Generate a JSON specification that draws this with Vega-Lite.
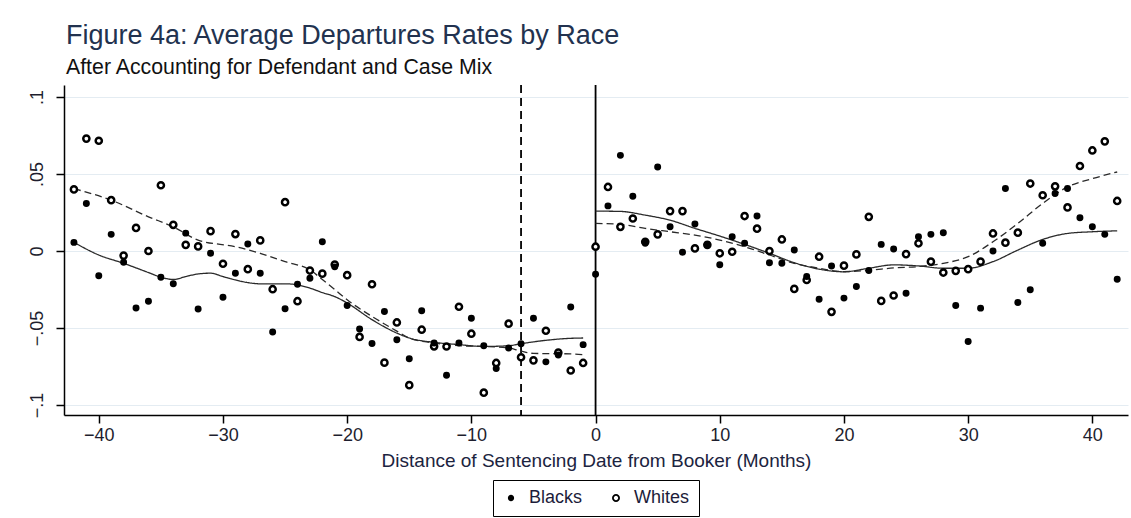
{
  "$schema": "https://vega.github.io/schema/vega-lite/v6.json",
  "width": 1064,
  "height": 330,
  "autosize": {"type": "none"},
  "padding": {"left": 64, "top": 85, "right": 3, "bottom": 103},
  "background": "white",
  "title": {
    "text": "Figure 4a: Average Departures Rates by Race",
    "subtitle": "After Accounting for Defendant and Case Mix",
    "anchor": "start",
    "frame": "group",
    "offset": 5,
    "dx": 2,
    "font": "Liberation Sans",
    "fontSize": 27,
    "fontWeight": "normal",
    "color": "#22324f",
    "subtitleFont": "Liberation Sans",
    "subtitleFontSize": 21.3,
    "subtitleColor": "#111111",
    "subtitlePadding": 7
  },
  "config": {
    "view": {"stroke": null},
    "font": "Liberation Sans",
    "axis": {
      "labelFont": "Liberation Sans",
      "titleFont": "Liberation Sans",
      "domainColor": "black",
      "domainWidth": 1.5,
      "tickColor": "black",
      "tickWidth": 1.5,
      "tickSize": 8,
      "labelColor": "#1e1e2e",
      "titleColor": "#1c2440",
      "gridColor": "#e4ecf2",
      "gridWidth": 1
    }
  },
  "resolve": {"scale": {"strokeDash": "independent"}},
  "datasets": {
    "points": [
      {"month": -42, "race": "Whites", "rate": 0.040}, {"month": -41, "race": "Whites", "rate": 0.073}, {"month": -40, "race": "Whites", "rate": 0.0716},
      {"month": -39, "race": "Whites", "rate": 0.033}, {"month": -38, "race": "Whites", "rate": -0.003}, {"month": -37, "race": "Whites", "rate": 0.015},
      {"month": -36, "race": "Whites", "rate": 0.000}, {"month": -35, "race": "Whites", "rate": 0.0427}, {"month": -34, "race": "Whites", "rate": 0.017},
      {"month": -33, "race": "Whites", "rate": 0.004}, {"month": -32, "race": "Whites", "rate": 0.003}, {"month": -31, "race": "Whites", "rate": 0.0129},
      {"month": -30, "race": "Whites", "rate": -0.0083}, {"month": -29, "race": "Whites", "rate": 0.011}, {"month": -28, "race": "Whites", "rate": -0.0118},
      {"month": -27, "race": "Whites", "rate": 0.0069}, {"month": -26, "race": "Whites", "rate": -0.0248}, {"month": -25, "race": "Whites", "rate": 0.0317},
      {"month": -24, "race": "Whites", "rate": -0.0326}, {"month": -23, "race": "Whites", "rate": -0.0127}, {"month": -22, "race": "Whites", "rate": -0.0147},
      {"month": -21, "race": "Whites", "rate": -0.0088}, {"month": -20, "race": "Whites", "rate": -0.0157}, {"month": -19, "race": "Whites", "rate": -0.0558},
      {"month": -18, "race": "Whites", "rate": -0.0216}, {"month": -17, "race": "Whites", "rate": -0.0725}, {"month": -16, "race": "Whites", "rate": -0.0464},
      {"month": -15, "race": "Whites", "rate": -0.0871}, {"month": -14, "race": "Whites", "rate": -0.0511}, {"month": -13, "race": "Whites", "rate": -0.0619},
      {"month": -12, "race": "Whites", "rate": -0.062}, {"month": -11, "race": "Whites", "rate": -0.0362}, {"month": -10, "race": "Whites", "rate": -0.0537},
      {"month": -9, "race": "Whites", "rate": -0.092}, {"month": -8, "race": "Whites", "rate": -0.0727}, {"month": -7, "race": "Whites", "rate": -0.0472},
      {"month": -6, "race": "Whites", "rate": -0.069}, {"month": -5, "race": "Whites", "rate": -0.071}, {"month": -4, "race": "Whites", "rate": -0.0518},
      {"month": -3, "race": "Whites", "rate": -0.066}, {"month": -2, "race": "Whites", "rate": -0.0776}, {"month": -1, "race": "Whites", "rate": -0.0727},
      {"month": 0, "race": "Whites", "rate": 0.0028}, {"month": 1, "race": "Whites", "rate": 0.0416}, {"month": 2, "race": "Whites", "rate": 0.0157},
      {"month": 3, "race": "Whites", "rate": 0.0211}, {"month": 4, "race": "Whites", "rate": 0.006}, {"month": 5, "race": "Whites", "rate": 0.0108},
      {"month": 6, "race": "Whites", "rate": 0.0259}, {"month": 7, "race": "Whites", "rate": 0.0259}, {"month": 8, "race": "Whites", "rate": 0.0017},
      {"month": 9, "race": "Whites", "rate": 0.004}, {"month": 10, "race": "Whites", "rate": -0.0015}, {"month": 11, "race": "Whites", "rate": -0.0005},
      {"month": 12, "race": "Whites", "rate": 0.0227}, {"month": 13, "race": "Whites", "rate": 0.0145}, {"month": 14, "race": "Whites", "rate": 0.0},
      {"month": 15, "race": "Whites", "rate": 0.0075}, {"month": 16, "race": "Whites", "rate": -0.0246}, {"month": 17, "race": "Whites", "rate": -0.0188},
      {"month": 18, "race": "Whites", "rate": -0.0037}, {"month": 19, "race": "Whites", "rate": -0.0395}, {"month": 20, "race": "Whites", "rate": -0.0095},
      {"month": 21, "race": "Whites", "rate": -0.0022}, {"month": 22, "race": "Whites", "rate": 0.0222}, {"month": 23, "race": "Whites", "rate": -0.0324},
      {"month": 24, "race": "Whites", "rate": -0.0289}, {"month": 25, "race": "Whites", "rate": -0.002}, {"month": 26, "race": "Whites", "rate": 0.005},
      {"month": 27, "race": "Whites", "rate": -0.0069}, {"month": 28, "race": "Whites", "rate": -0.014}, {"month": 29, "race": "Whites", "rate": -0.0129},
      {"month": 30, "race": "Whites", "rate": -0.0118}, {"month": 31, "race": "Whites", "rate": -0.0069}, {"month": 32, "race": "Whites", "rate": 0.0114},
      {"month": 33, "race": "Whites", "rate": 0.0054}, {"month": 34, "race": "Whites", "rate": 0.0119}, {"month": 35, "race": "Whites", "rate": 0.0438},
      {"month": 36, "race": "Whites", "rate": 0.0362}, {"month": 37, "race": "Whites", "rate": 0.042}, {"month": 38, "race": "Whites", "rate": 0.0283},
      {"month": 39, "race": "Whites", "rate": 0.0552}, {"month": 40, "race": "Whites", "rate": 0.0653}, {"month": 41, "race": "Whites", "rate": 0.0712},
      {"month": 42, "race": "Whites", "rate": 0.0325},
      {"month": -42, "race": "Blacks", "rate": 0.0056}, {"month": -41, "race": "Blacks", "rate": 0.0309}, {"month": -40, "race": "Blacks", "rate": -0.016},
      {"month": -39, "race": "Blacks", "rate": 0.0108}, {"month": -38, "race": "Blacks", "rate": -0.0073}, {"month": -37, "race": "Blacks", "rate": -0.037},
      {"month": -36, "race": "Blacks", "rate": -0.0326}, {"month": -35, "race": "Blacks", "rate": -0.017}, {"month": -34, "race": "Blacks", "rate": -0.0213},
      {"month": -33, "race": "Blacks", "rate": 0.0116}, {"month": -32, "race": "Blacks", "rate": -0.0377}, {"month": -31, "race": "Blacks", "rate": -0.0015},
      {"month": -30, "race": "Blacks", "rate": -0.030}, {"month": -29, "race": "Blacks", "rate": -0.0144}, {"month": -28, "race": "Blacks", "rate": 0.0045},
      {"month": -27, "race": "Blacks", "rate": -0.0144}, {"month": -26, "race": "Blacks", "rate": -0.0526}, {"month": -25, "race": "Blacks", "rate": -0.0375},
      {"month": -24, "race": "Blacks", "rate": -0.0216}, {"month": -23, "race": "Blacks", "rate": -0.0177}, {"month": -22, "race": "Blacks", "rate": 0.006},
      {"month": -21, "race": "Blacks", "rate": -0.0103}, {"month": -20, "race": "Blacks", "rate": -0.0354}, {"month": -19, "race": "Blacks", "rate": -0.0507},
      {"month": -18, "race": "Blacks", "rate": -0.060}, {"month": -17, "race": "Blacks", "rate": -0.0393}, {"month": -16, "race": "Blacks", "rate": -0.0576},
      {"month": -15, "race": "Blacks", "rate": -0.0699}, {"month": -14, "race": "Blacks", "rate": -0.0388}, {"month": -13, "race": "Blacks", "rate": -0.0597},
      {"month": -12, "race": "Blacks", "rate": -0.0807}, {"month": -11, "race": "Blacks", "rate": -0.0597}, {"month": -10, "race": "Blacks", "rate": -0.0436},
      {"month": -9, "race": "Blacks", "rate": -0.0615}, {"month": -8, "race": "Blacks", "rate": -0.0763}, {"month": -7, "race": "Blacks", "rate": -0.063},
      {"month": -6, "race": "Blacks", "rate": -0.0602}, {"month": -5, "race": "Blacks", "rate": -0.0436}, {"month": -4, "race": "Blacks", "rate": -0.072},
      {"month": -3, "race": "Blacks", "rate": -0.0675}, {"month": -2, "race": "Blacks", "rate": -0.0364}, {"month": -1, "race": "Blacks", "rate": -0.0608},
      {"month": 0, "race": "Blacks", "rate": -0.0151}, {"month": 1, "race": "Blacks", "rate": 0.0293}, {"month": 2, "race": "Blacks", "rate": 0.0621},
      {"month": 3, "race": "Blacks", "rate": 0.0356}, {"month": 4, "race": "Blacks", "rate": 0.005}, {"month": 5, "race": "Blacks", "rate": 0.0545},
      {"month": 6, "race": "Blacks", "rate": 0.0157}, {"month": 7, "race": "Blacks", "rate": -0.0008}, {"month": 8, "race": "Blacks", "rate": 0.0175},
      {"month": 9, "race": "Blacks", "rate": 0.0043}, {"month": 10, "race": "Blacks", "rate": -0.009}, {"month": 11, "race": "Blacks", "rate": 0.0093},
      {"month": 12, "race": "Blacks", "rate": 0.005}, {"month": 13, "race": "Blacks", "rate": 0.0227}, {"month": 14, "race": "Blacks", "rate": -0.0076},
      {"month": 15, "race": "Blacks", "rate": -0.008}, {"month": 16, "race": "Blacks", "rate": 0.0006}, {"month": 17, "race": "Blacks", "rate": -0.0166},
      {"month": 18, "race": "Blacks", "rate": -0.0313}, {"month": 19, "race": "Blacks", "rate": -0.0097}, {"month": 20, "race": "Blacks", "rate": -0.0306},
      {"month": 21, "race": "Blacks", "rate": -0.0231}, {"month": 22, "race": "Blacks", "rate": -0.0127}, {"month": 23, "race": "Blacks", "rate": 0.0043},
      {"month": 24, "race": "Blacks", "rate": 0.0013}, {"month": 25, "race": "Blacks", "rate": -0.0274}, {"month": 26, "race": "Blacks", "rate": 0.0093},
      {"month": 27, "race": "Blacks", "rate": 0.0108}, {"month": 28, "race": "Blacks", "rate": 0.0119}, {"month": 29, "race": "Blacks", "rate": -0.0354},
      {"month": 30, "race": "Blacks", "rate": -0.0587}, {"month": 31, "race": "Blacks", "rate": -0.0371}, {"month": 32, "race": "Blacks", "rate": 0.0},
      {"month": 33, "race": "Blacks", "rate": 0.0406}, {"month": 34, "race": "Blacks", "rate": -0.0334}, {"month": 35, "race": "Blacks", "rate": -0.0252},
      {"month": 36, "race": "Blacks", "rate": 0.005}, {"month": 37, "race": "Blacks", "rate": 0.0373}, {"month": 38, "race": "Blacks", "rate": 0.0406},
      {"month": 39, "race": "Blacks", "rate": 0.0216}, {"month": 40, "race": "Blacks", "rate": 0.0157}, {"month": 41, "race": "Blacks", "rate": 0.0108},
      {"month": 42, "race": "Blacks", "rate": -0.0183}
    ],
    "fits": [
      {"race": "Blacks", "side": "pre", "month": -42, "rate": 0.0056}, {"race": "Blacks", "side": "pre", "month": -40, "rate": -0.0026},
      {"race": "Blacks", "side": "pre", "month": -38, "rate": -0.008}, {"race": "Blacks", "side": "pre", "month": -36, "rate": -0.014},
      {"race": "Blacks", "side": "pre", "month": -35, "rate": -0.017}, {"race": "Blacks", "side": "pre", "month": -34, "rate": -0.0185},
      {"race": "Blacks", "side": "pre", "month": -33, "rate": -0.0166}, {"race": "Blacks", "side": "pre", "month": -32, "rate": -0.0149},
      {"race": "Blacks", "side": "pre", "month": -31, "rate": -0.0144}, {"race": "Blacks", "side": "pre", "month": -30, "rate": -0.0166},
      {"race": "Blacks", "side": "pre", "month": -29, "rate": -0.0188}, {"race": "Blacks", "side": "pre", "month": -28, "rate": -0.0205},
      {"race": "Blacks", "side": "pre", "month": -27, "rate": -0.0213}, {"race": "Blacks", "side": "pre", "month": -25, "rate": -0.0213},
      {"race": "Blacks", "side": "pre", "month": -24, "rate": -0.022}, {"race": "Blacks", "side": "pre", "month": -23, "rate": -0.0241},
      {"race": "Blacks", "side": "pre", "month": -22, "rate": -0.027}, {"race": "Blacks", "side": "pre", "month": -21, "rate": -0.0296},
      {"race": "Blacks", "side": "pre", "month": -20, "rate": -0.0338}, {"race": "Blacks", "side": "pre", "month": -18, "rate": -0.0446},
      {"race": "Blacks", "side": "pre", "month": -16, "rate": -0.0533}, {"race": "Blacks", "side": "pre", "month": -15, "rate": -0.0565},
      {"race": "Blacks", "side": "pre", "month": -13, "rate": -0.0593}, {"race": "Blacks", "side": "pre", "month": -11, "rate": -0.0608},
      {"race": "Blacks", "side": "pre", "month": -9, "rate": -0.062}, {"race": "Blacks", "side": "pre", "month": -7, "rate": -0.0615},
      {"race": "Blacks", "side": "pre", "month": -6, "rate": -0.0602}, {"race": "Blacks", "side": "pre", "month": -4, "rate": -0.058},
      {"race": "Blacks", "side": "pre", "month": -2, "rate": -0.0567}, {"race": "Blacks", "side": "pre", "month": -1, "rate": -0.0565},
      {"race": "Whites", "side": "pre", "month": -42, "rate": 0.0405}, {"race": "Whites", "side": "pre", "month": -39, "rate": 0.033},
      {"race": "Whites", "side": "pre", "month": -36, "rate": 0.0222}, {"race": "Whites", "side": "pre", "month": -34, "rate": 0.0157},
      {"race": "Whites", "side": "pre", "month": -32, "rate": 0.0071}, {"race": "Whites", "side": "pre", "month": -29, "rate": 0.0028},
      {"race": "Whites", "side": "pre", "month": -27, "rate": -0.0015}, {"race": "Whites", "side": "pre", "month": -25, "rate": -0.0069},
      {"race": "Whites", "side": "pre", "month": -23, "rate": -0.0123}, {"race": "Whites", "side": "pre", "month": -22, "rate": -0.0185},
      {"race": "Whites", "side": "pre", "month": -21, "rate": -0.025}, {"race": "Whites", "side": "pre", "month": -20, "rate": -0.0317},
      {"race": "Whites", "side": "pre", "month": -18, "rate": -0.0425}, {"race": "Whites", "side": "pre", "month": -16, "rate": -0.052},
      {"race": "Whites", "side": "pre", "month": -15, "rate": -0.0565}, {"race": "Whites", "side": "pre", "month": -13, "rate": -0.0597},
      {"race": "Whites", "side": "pre", "month": -11, "rate": -0.0615}, {"race": "Whites", "side": "pre", "month": -9, "rate": -0.062},
      {"race": "Whites", "side": "pre", "month": -7, "rate": -0.063}, {"race": "Whites", "side": "pre", "month": -6, "rate": -0.065},
      {"race": "Whites", "side": "pre", "month": -5, "rate": -0.0665}, {"race": "Whites", "side": "pre", "month": -3, "rate": -0.0667},
      {"race": "Whites", "side": "pre", "month": -2, "rate": -0.0668}, {"race": "Whites", "side": "pre", "month": -1, "rate": -0.0673},
      {"race": "Blacks", "side": "post", "month": 0, "rate": 0.0259}, {"race": "Blacks", "side": "post", "month": 2, "rate": 0.0257},
      {"race": "Blacks", "side": "post", "month": 4, "rate": 0.0233}, {"race": "Blacks", "side": "post", "month": 6, "rate": 0.02},
      {"race": "Blacks", "side": "post", "month": 8, "rate": 0.0147}, {"race": "Blacks", "side": "post", "month": 10, "rate": 0.0097},
      {"race": "Blacks", "side": "post", "month": 12, "rate": 0.0043}, {"race": "Blacks", "side": "post", "month": 14, "rate": -0.0015},
      {"race": "Blacks", "side": "post", "month": 16, "rate": -0.0076}, {"race": "Blacks", "side": "post", "month": 18, "rate": -0.0118},
      {"race": "Blacks", "side": "post", "month": 20, "rate": -0.0135}, {"race": "Blacks", "side": "post", "month": 22, "rate": -0.0112},
      {"race": "Blacks", "side": "post", "month": 24, "rate": -0.009}, {"race": "Blacks", "side": "post", "month": 26, "rate": -0.0097},
      {"race": "Blacks", "side": "post", "month": 28, "rate": -0.0112}, {"race": "Blacks", "side": "post", "month": 30, "rate": -0.0112},
      {"race": "Blacks", "side": "post", "month": 32, "rate": -0.0069}, {"race": "Blacks", "side": "post", "month": 34, "rate": 0.0006},
      {"race": "Blacks", "side": "post", "month": 36, "rate": 0.0075}, {"race": "Blacks", "side": "post", "month": 38, "rate": 0.0114},
      {"race": "Blacks", "side": "post", "month": 40, "rate": 0.0125}, {"race": "Blacks", "side": "post", "month": 42, "rate": 0.0131},
      {"race": "Whites", "side": "post", "month": 0, "rate": 0.0179}, {"race": "Whites", "side": "post", "month": 2, "rate": 0.0173},
      {"race": "Whites", "side": "post", "month": 4, "rate": 0.0147}, {"race": "Whites", "side": "post", "month": 6, "rate": 0.0125},
      {"race": "Whites", "side": "post", "month": 8, "rate": 0.0103}, {"race": "Whites", "side": "post", "month": 10, "rate": 0.0071},
      {"race": "Whites", "side": "post", "month": 12, "rate": 0.0028}, {"race": "Whites", "side": "post", "month": 14, "rate": -0.0026},
      {"race": "Whites", "side": "post", "month": 16, "rate": -0.008}, {"race": "Whites", "side": "post", "month": 18, "rate": -0.0112},
      {"race": "Whites", "side": "post", "month": 20, "rate": -0.0134}, {"race": "Whites", "side": "post", "month": 22, "rate": -0.0125},
      {"race": "Whites", "side": "post", "month": 24, "rate": -0.011}, {"race": "Whites", "side": "post", "month": 26, "rate": -0.0101},
      {"race": "Whites", "side": "post", "month": 28, "rate": -0.008}, {"race": "Whites", "side": "post", "month": 30, "rate": -0.0037},
      {"race": "Whites", "side": "post", "month": 32, "rate": 0.006}, {"race": "Whites", "side": "post", "month": 34, "rate": 0.0179},
      {"race": "Whites", "side": "post", "month": 36, "rate": 0.0309}, {"race": "Whites", "side": "post", "month": 38, "rate": 0.0416},
      {"race": "Whites", "side": "post", "month": 40, "rate": 0.047}, {"race": "Whites", "side": "post", "month": 42, "rate": 0.0513}
    ],
    "vlines": [
      {"month": -6, "kind": "dash"},
      {"month": 0, "kind": "solid"}
    ]
  },
  "encoding": {
    "x": {
      "field": "month",
      "type": "quantitative",
      "scale": {"domain": [-42.8, 42.87], "nice": false, "zero": false},
      "axis": {
        "values": [-40, -30, -20, -10, 0, 10, 20, 30, 40],
        "grid": false,
        "title": "Distance of Sentencing Date from Booker (Months)",
        "titleFontSize": 19,
        "titleFontWeight": "normal",
        "titlePadding": 7,
        "labelFontSize": 18,
        "labelPadding": 3
      }
    }
  },
  "layer": [
    {
      "data": {"name": "vlines"},
      "mark": {"type": "rule", "color": "black", "strokeWidth": 1.8},
      "encoding": {
        "strokeDash": {
          "field": "kind",
          "type": "nominal",
          "scale": {"domain": ["dash", "solid"], "range": [[8, 5], [1, 0]]},
          "legend": null
        }
      }
    },
    {
      "data": {"name": "fits"},
      "mark": {"type": "line", "color": "#2a2a2a", "strokeWidth": 1.3, "interpolate": "monotone"},
      "encoding": {
        "y": {
          "field": "rate",
          "type": "quantitative",
          "scale": {"domain": [-0.1065, 0.1078], "nice": false, "zero": false},
          "axis": {
            "values": [-0.1, -0.05, 0, 0.05, 0.1],
            "title": null,
            "grid": true,
            "labelExpr": "datum.value == 0 ? '0' : replace(format(datum.value, '.2~f'), '0.', '.')",
            "labelAngle": -90,
            "labelAlign": "center",
            "labelBaseline": "bottom",
            "labelFontSize": 18,
            "labelPadding": 10
          }
        },
        "detail": {"field": "side", "type": "nominal"},
        "strokeDash": {
          "field": "race",
          "type": "nominal",
          "scale": {"domain": ["Blacks", "Whites"], "range": [[1, 0], [7, 4]]},
          "legend": null
        }
      }
    },
    {
      "data": {"name": "points"},
      "mark": {"type": "point", "shape": "circle", "stroke": "black", "strokeWidth": 2.5, "opacity": 1, "fillOpacity": 1},
      "encoding": {
        "y": {
          "field": "rate",
          "type": "quantitative",
          "scale": {"domain": [-0.1065, 0.1078], "nice": false, "zero": false}
        },
        "fill": {
          "field": "race",
          "type": "nominal",
          "scale": {"domain": ["Blacks", "Whites"], "range": ["black", "white"]},
          "legend": {
            "title": null,
            "orient": "none",
            "legendX": 429,
            "legendY": 395,
            "direction": "horizontal",
            "strokeColor": "black",
            "padding": 9,
            "labelFontSize": 18,
            "labelFont": "Liberation Sans",
            "labelColor": "#1c1c3a",
            "labelOffset": 9,
            "columnPadding": 24,
            "symbolStrokeColor": "black",
            "symbolStrokeWidth": 1.8
          }
        },
        "size": {
          "field": "race",
          "type": "nominal",
          "scale": {"domain": ["Blacks", "Whites"], "range": [20, 38]}
        }
      }
    }
  ]
}
